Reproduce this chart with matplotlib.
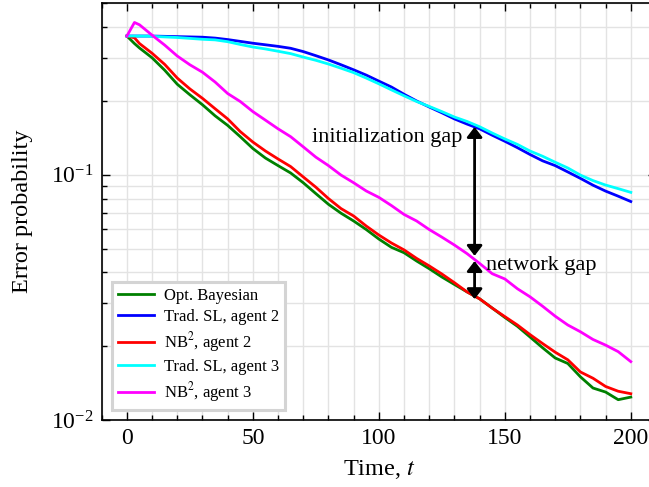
import numpy as np
import matplotlib
matplotlib.use('Agg')
import matplotlib.pyplot as plt
from matplotlib.ticker import MultipleLocator, LogLocator

# Data (error probability vs time)
t = [0, 3, 5, 10, 15, 20, 25, 30, 35, 40, 45, 50, 55, 60, 65, 70, 75, 80, 85, 90,
     95, 100, 105, 110, 115, 120, 125, 130, 135, 140, 145, 150, 155, 160, 165,
     170, 175, 180, 185, 190, 195, 200]

opt_bayes = [0.368, 0.343, 0.329, 0.300, 0.267, 0.234, 0.212, 0.193, 0.174, 0.159,
             0.143, 0.128, 0.117, 0.109, 0.1017, 0.0928, 0.0838, 0.0758, 0.0697, 0.0648,
             0.0598, 0.0547, 0.0506, 0.0481, 0.0445, 0.0414, 0.0383, 0.0357, 0.0333, 0.0312,
             0.0286, 0.0262, 0.0241, 0.0218, 0.0197, 0.0179, 0.0170, 0.0150, 0.0135,
             0.0130, 0.0121, 0.0124]

trad_sl_2 = [0.368, 0.368, 0.368, 0.368, 0.367, 0.366, 0.365, 0.364, 0.361, 0.356,
             0.350, 0.344, 0.339, 0.334, 0.328, 0.318, 0.306, 0.294, 0.281, 0.268,
             0.255, 0.241, 0.228, 0.213, 0.200, 0.189, 0.179, 0.169, 0.161, 0.154,
             0.145, 0.137, 0.129, 0.121, 0.114, 0.109, 0.1027, 0.0967, 0.0907, 0.0858,
             0.0818, 0.0778]

nb2_2 = [0.368, 0.362, 0.343, 0.313, 0.282, 0.248, 0.224, 0.205, 0.186, 0.169,
         0.150, 0.136, 0.125, 0.116, 0.108, 0.098, 0.089, 0.080, 0.0728, 0.0679,
         0.0618, 0.0568, 0.0527, 0.0494, 0.0456, 0.0425, 0.0394, 0.0363, 0.0333, 0.0312,
         0.0286, 0.0264, 0.0244, 0.0223, 0.0205, 0.0189, 0.0176, 0.0157, 0.0148,
         0.0137, 0.0131, 0.0128]

trad_sl_3 = [0.368, 0.368, 0.368, 0.367, 0.365, 0.363, 0.360, 0.357, 0.355, 0.349,
             0.340, 0.332, 0.326, 0.319, 0.312, 0.302, 0.293, 0.283, 0.272, 0.261,
             0.248, 0.235, 0.222, 0.210, 0.199, 0.190, 0.181, 0.172, 0.165, 0.157,
             0.148, 0.140, 0.133, 0.125, 0.119, 0.1125, 0.1066, 0.0997, 0.0947, 0.0908,
             0.0878, 0.0848]

nb2_3 = [0.368, 0.418, 0.409, 0.371, 0.338, 0.305, 0.281, 0.262, 0.239, 0.2145,
         0.199, 0.181, 0.167, 0.154, 0.143, 0.130, 0.118, 0.109, 0.0997, 0.0928,
         0.0859, 0.0809, 0.0749, 0.0689, 0.0648, 0.0598, 0.0557, 0.0517, 0.0477, 0.0435,
         0.0395, 0.0376, 0.0343, 0.0318, 0.0291, 0.0265, 0.0244, 0.0229, 0.0213, 0.0202,
         0.0190, 0.0173]

series = [
    (opt_bayes, 'green', 'Opt. Bayesian'),
    (trad_sl_2, 'blue', 'Trad. SL, agent 2'),
    (nb2_2, 'red', r'NB$^2$, agent 2'),
    (trad_sl_3, 'cyan', 'Trad. SL, agent 3'),
    (nb2_3, 'magenta', r'NB$^2$, agent 3'),
]

# gap markers
t_gap = 138
init_top, init_bot = 0.1567, 0.0467
net_top, net_bot = 0.0445, 0.0311


def main():
    plt.rcParams['font.family'] = ['Liberation Serif', 'DejaVu Serif']
    plt.rcParams['mathtext.fontset'] = 'stix'

    fig = plt.figure(figsize=(6.49, 4.87), dpi=100)
    ax = fig.add_axes([101.7 / 649, 67 / 487, 554.3 / 649, 416.6 / 487])

    for vals, col, lab in series:
        ax.plot(t, vals, color=col, lw=2, label=lab)

    ax.set_yscale('log')
    ax.set_xlim(-10, 210)
    ax.set_ylim(0.01, 0.5)

    ax.xaxis.set_major_locator(MultipleLocator(50))
    ax.xaxis.set_minor_locator(MultipleLocator(10))
    ax.yaxis.set_minor_locator(LogLocator(base=10, subs=np.arange(2, 10)))

    ax.tick_params(which='both', direction='in', top=True, right=True,
                   labelsize=17, width=1)
    ax.tick_params(which='major', length=5.5, pad=6)
    ax.tick_params(which='minor', length=3.5)
    for sp in ax.spines.values():
        sp.set_linewidth(1.2)

    ax.grid(True, which='both', color='#e3e3e3', lw=1)
    ax.set_axisbelow(True)

    ax.set_xlabel('Time, $t$', fontsize=17.5, labelpad=6)
    ax.set_ylabel('Error probability', fontsize=17.5, labelpad=13)

    head = '<|-|>,head_length=0.3,head_width=0.23'
    ax.annotate('', xy=(t_gap, init_bot), xytext=(t_gap, init_top),
                arrowprops=dict(arrowstyle=head, color='k', lw=2,
                                mutation_scale=20, shrinkA=0, shrinkB=0))
    ax.annotate('', xy=(t_gap, net_bot), xytext=(t_gap, net_top),
                arrowprops=dict(arrowstyle=head, color='k', lw=2,
                                mutation_scale=20, shrinkA=0, shrinkB=0))
    ax.text(133.1, 0.1413, 'initialization gap', fontsize=16,
            ha='right', va='center')
    ax.text(142.6, 0.0425, 'network gap', fontsize=16,
            ha='left', va='center')

    leg = ax.legend(loc='lower left', fontsize=12, fancybox=False,
                    edgecolor='#d4d4d4', framealpha=1, handlelength=2.2,
                    handletextpad=0.6, labelspacing=0.3, borderpad=0.35,
                    borderaxespad=0.6)
    leg.get_frame().set_linewidth(2.2)

    fig.savefig('out.png', dpi=100)
    plt.close(fig)


if __name__ == "__main__":
    main()
